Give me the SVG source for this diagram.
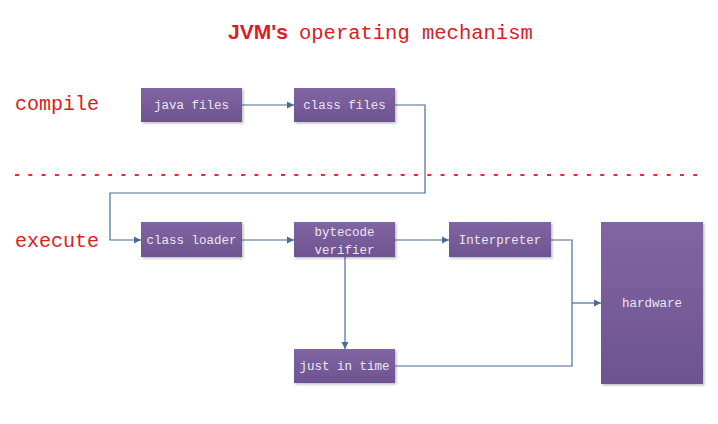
<svg xmlns="http://www.w3.org/2000/svg" width="718" height="424" viewBox="0 0 718 424">
<defs>
<linearGradient id="g" x1="0" y1="0" x2="0" y2="1">
<stop offset="0" stop-color="#8264a3"/>
<stop offset="1" stop-color="#6d5490"/>
</linearGradient>
<filter id="sh" x="-10%" y="-10%" width="130%" height="130%">
<feDropShadow dx="1.5" dy="1.5" stdDeviation="1" flood-color="#000" flood-opacity="0.25"/>
</filter>
<marker id="ah" markerWidth="8" markerHeight="8" refX="7" refY="4" orient="auto" markerUnits="userSpaceOnUse">
<path d="M0,0.5 L7,4 L0,7.5 Z" fill="#4a6d98"/>
</marker>
</defs>
<style>
.box{fill:url(#g);filter:url(#sh)}
.bt{font-family:"Liberation Mono","DejaVu Sans Mono",monospace;font-size:12.5px;fill:#ece6f2;text-anchor:middle}
.lbl{font-family:"Liberation Mono","DejaVu Sans Mono",monospace;font-size:20px;fill:#d9201f}
.c{fill:none;stroke:#4a6d98;stroke-width:1.2}
</style>
<rect width="718" height="424" fill="#ffffff"/>
<text x="228" y="39" font-family="Liberation Sans, Arial, sans-serif" font-weight="bold" font-size="21" fill="#d9201f">JVM's</text>
<text x="299" y="39" font-family="Liberation Mono, monospace" font-size="20.5" fill="#d9201f">operating mechanism</text>
<text class="lbl" x="15" y="110">compile</text>
<text class="lbl" x="15" y="247">execute</text>
<line x1="15" y1="175" x2="700" y2="175" stroke="#e0302a" stroke-width="2" stroke-dasharray="4,9.3"/>
<g id="connectors">
<line class="c" x1="242" y1="105" x2="294" y2="105" marker-end="url(#ah)"/>
<polyline class="c" points="395,105 425,105 425,193 110,193 110,240 141,240" marker-end="url(#ah)"/>
<line class="c" x1="242" y1="240" x2="294" y2="240" marker-end="url(#ah)"/>
<line class="c" x1="395" y1="240" x2="449" y2="240" marker-end="url(#ah)"/>
<line class="c" x1="345" y1="257" x2="345" y2="349" marker-end="url(#ah)"/>
<polyline class="c" points="551,240 572,240 572,366 395,366"/>
<line class="c" x1="572" y1="303" x2="601" y2="303" marker-end="url(#ah)"/>
</g>
<g id="java-files"><rect class="box" x="141" y="88" width="101" height="34"/><text class="bt" x="191.5" y="109">java files</text></g>
<g id="class-files"><rect class="box" x="294" y="88" width="101" height="34"/><text class="bt" x="344.5" y="109">class files</text></g>
<g id="class-loader"><rect class="box" x="141" y="222" width="101" height="35"/><text class="bt" x="191.5" y="244">class loader</text></g>
<g id="bytecode-verifier"><rect class="box" x="294" y="222" width="101" height="35"/><text class="bt" x="344.5" y="236">bytecode</text><text class="bt" x="344.5" y="254">verifier</text></g>
<g id="interpreter"><rect class="box" x="449" y="222" width="102" height="35"/><text class="bt" x="500" y="244">Interpreter</text></g>
<g id="just-in-time"><rect class="box" x="294" y="349" width="101" height="34"/><text class="bt" x="344.5" y="370">just in time</text></g>
<g id="hardware"><rect class="box" x="601" y="222" width="102" height="162"/><text class="bt" x="652" y="307">hardware</text></g>
</svg>
